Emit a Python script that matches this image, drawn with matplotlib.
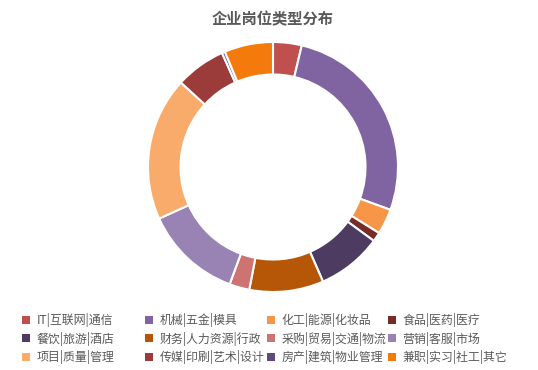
import matplotlib.pyplot as plt
from matplotlib.patches import Patch

plt.rcParams['font.family'] = ['Noto Sans CJK SC', 'DejaVu Sans']

categories = ["IT|互联网|通信", "机械|五金|模具", "化工|能源|化妆品", "食品|医药|医疗",
              "餐饮|旅游|酒店", "财务|人力资源|行政", "采购|贸易|交通|物流", "营销|客服|市场",
              "项目|质量|管理", "传媒|印刷|艺术|设计", "房产|建筑|物业管理", "兼职|实习|社工|其它"]
values = [37, 269, 33, 12, 84, 96, 26, 126, 186, 65, 4, 63]
colors = ["#C0504D", "#8064A2", "#F79646", "#772C2A", "#4D3B62", "#B65708",
          "#CD7371", "#9983B5", "#F9AB6B", "#9B3B3A", "#5F4B7B", "#F47B0B"]

fig = plt.figure(figsize=(5.38, 3.7), dpi=100)
ax = fig.add_axes([148 / 538, 78 / 370, 250 / 538, 250 / 370])
ax.pie(values, colors=colors, startangle=90, counterclock=False,
       wedgeprops=dict(width=0.26, edgecolor="white", linewidth=1.5))
ax.set_xlim(-1, 1)
ax.set_ylim(-1, 1)
ax.set_aspect("equal")
ax.axis("off")

fig.text(273 / 538, 1 - 19 / 370, "企业岗位类型分布", ha="center", va="center",
         fontsize=11, fontweight="bold", color="#595959")

# четыре колонки легенды, как в оригинале
col_x = [22, 145, 267, 388]
for c in range(4):
    idx = [c, c + 4, c + 8]
    handles = [Patch(facecolor=colors[i], edgecolor="none") for i in idx]
    leg = fig.legend(handles, [categories[i] for i in idx], loc="upper left",
                     bbox_to_anchor=(col_x[c] / 538, 1 - 313 / 370), frameon=False,
                     fontsize=8.6, handlelength=0.65, handleheight=0.65, handletextpad=0.55,
                     labelspacing=0.38, borderaxespad=0, borderpad=0)
    for t in leg.get_texts():
        t.set_color("#595959")

fig.savefig("out.png", dpi=100)
